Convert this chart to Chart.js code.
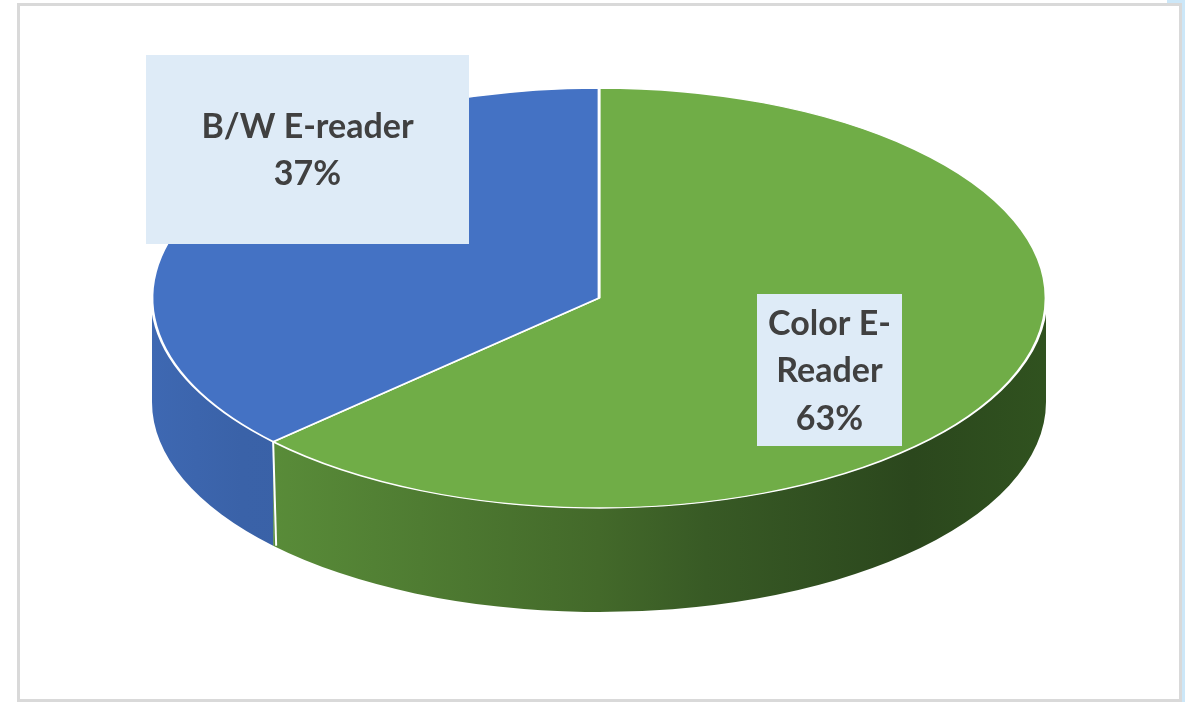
<!DOCTYPE html>
<html>
<head>
<meta charset="utf-8">
<title>E-reader share</title>
<script src="https://cdn.jsdelivr.net/npm/chart.js@4.4.1/dist/chart.umd.min.js"></script>
<style>
  html, body { margin: 0; padding: 0; background: #fff; overflow: hidden; }
  #wrap { position: relative; width: 1185px; height: 702px; }
  #frame { position: absolute; left: 17px; top: 3px; width: 1159px; height: 693px; border: 3px solid #d9d9d9; }
  #edge { position: absolute; left: 1182px; top: 0; width: 3px; height: 702px; background: #cce7f8; }
  #edgeTop { position: absolute; left: 1167px; top: 0; width: 18px; height: 3px; background: #cce7f8; }
  #myChart { position: absolute; left: 0; top: 0; }
</style>
</head>
<body>
<div id="wrap">
  <div id="frame"></div>
  <div id="edge"></div>
  <div id="edgeTop"></div>
  <canvas id="myChart" width="1185" height="702"></canvas>
</div>
<script>
// data
var categorias = ['Color E-Reader', 'B/W E-reader'];
var valores = [63, 37];

// looks
var coresTopo = ['#70ad47', '#4472c4'];
var RX = 447;      // horizontal radius of the top face
var PROF = 104;    // depth of the pie side
var caixas = [     // label boxes, same order as categorias
    {x: 757, y: 294, w: 145, h: 152},
    {x: 146, y: 55, w: 323, h: 189}
];

function wrapLabel(ctx, text, maxW) {
    var parts = [];
    text.split(' ').forEach(function(word, wi){
        word.split(/(?<=-)/).forEach(function(p, pi){
            parts.push((wi > 0 && pi === 0 ? ' ' : '') + p);
        });
    });
    var lines = [];
    var cur = '';
    parts.forEach(function(p){
        if (cur && ctx.measureText(cur + p).width > maxW) {
            lines.push(cur);
            cur = p.trim();
        } else {
            cur = cur + p;
        }
    });
    if (cur) lines.push(cur);
    return lines;
}

function sideFill(ctx, i, cx, rx) {
    var g = ctx.createLinearGradient(cx - rx, 0, cx + rx, 0);
    if (i === 0) {
        g.addColorStop(0, '#609a3d');
        g.addColorStop(0.1, '#5b8f3a');
        g.addColorStop(0.5, '#43692a');
        g.addColorStop(0.62, '#385a25');
        g.addColorStop(0.85, '#2b471d');
        g.addColorStop(1, '#30521f');
    } else {
        g.addColorStop(0, '#3e68b2');
        g.addColorStop(0.1, '#3a62a8');
        g.addColorStop(1, '#34589a');
    }
    return g;
}

var pie3d = {
    id: 'pie3d',
    beforeDatasetsDraw: function(chart){
        var ctx = chart.ctx;
        var arcs = chart.getDatasetMeta(0).data;
        var cx = arcs[0].x, cy = arcs[0].y, ry = arcs[0].outerRadius;

        // side walls (front half only)
        var cortes = [];
        arcs.forEach(function(arc, i){
            var a = Math.max(arc.startAngle, 0);
            var b = Math.min(arc.endAngle, Math.PI);
            if (a >= b) return;
            ctx.save();
            ctx.beginPath();
            ctx.ellipse(cx, cy, RX, ry, 0, a, b, false);
            ctx.ellipse(cx, cy + PROF, RX, ry, 0, b, a, true);
            ctx.closePath();
            ctx.fillStyle = sideFill(ctx, i, cx, RX);
            ctx.fill();
            ctx.restore();
            if (arc.startAngle > 0 && arc.startAngle < Math.PI) cortes.push(arc.startAngle);
        });
        cortes.forEach(function(t){
            var x = cx + RX * Math.cos(t), y = cy + ry * Math.sin(t);
            ctx.save();
            ctx.strokeStyle = '#ffffff';
            ctx.lineWidth = 2;
            ctx.beginPath();
            ctx.moveTo(x, y);
            ctx.lineTo(x + 3, y + PROF);
            ctx.stroke();
            ctx.restore();
        });

        // squash the top face into an ellipse
        ctx.save();
        ctx.translate(cx, cy);
        ctx.scale(RX / ry, 1);
        ctx.translate(-cx, -cy);
    },
    afterDatasetsDraw: function(chart){
        chart.ctx.restore();
    },
    afterDraw: function(chart){
        var ctx = chart.ctx;
        var total = valores.reduce(function(s, v){ return s + v; }, 0);
        ctx.save();
        ctx.font = 'bold 34px Lato';
        ctx.textAlign = 'center';
        ctx.textBaseline = 'alphabetic';
        categorias.forEach(function(cat, i){
            var c = caixas[i];
            ctx.fillStyle = '#deebf7';
            ctx.fillRect(c.x, c.y, c.w, c.h);
            var lines = wrapLabel(ctx, cat, c.w - 12);
            lines.push(Math.round(valores[i] / total * 100) + '%');
            ctx.fillStyle = '#404040';
            var mx = c.x + c.w / 2, my = c.y + c.h / 2;
            lines.forEach(function(l, k){
                ctx.fillText(l, mx, my + (k - (lines.length - 1) / 2) * 47.5 + 12);
            });
        });
        ctx.restore();
    }
};

new Chart(document.getElementById('myChart'), {
    type: 'pie',
    data: {
        labels: categorias,
        datasets: [{
            data: valores,
            backgroundColor: coresTopo,
            borderColor: '#ffffff',
            borderWidth: 1.3,
            radius: 210,
            clip: false
        }]
    },
    options: {
        responsive: false,
        animation: false,
        layout: { padding: { left: 389, right: 376, top: 88, bottom: 194 } },
        plugins: {
            legend: { display: false },
            tooltip: { enabled: false }
        },
        events: []
    },
    plugins: [pie3d]
});
</script>
</body>
</html>
